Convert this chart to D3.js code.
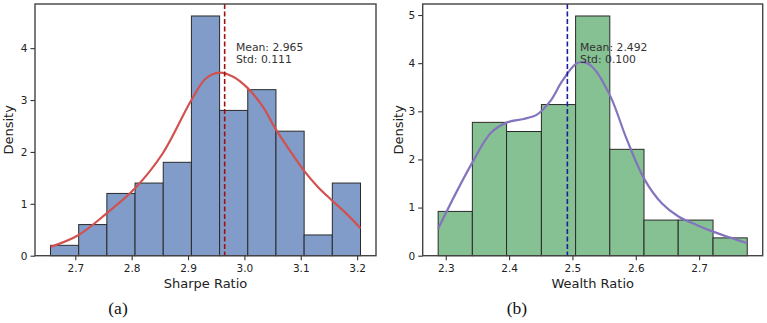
<!DOCTYPE html>
<html>
<head>
<meta charset="utf-8">
<script src="https://cdn.jsdelivr.net/npm/d3@7"></script>
<style>
  body { margin: 0; background: #fff; }
  svg { display: block; font-family: "DejaVu Sans", sans-serif; }
  .tick text { fill: #222; }
</style>
</head>
<body>
<div id="chart"></div>
<script>
// ---- data ----
var sharpeEdges = [2.656, 2.706, 2.756, 2.806, 2.856, 2.906, 2.956, 3.006, 3.056, 3.106, 3.156, 3.206];
var sharpeDensity = [0.2, 0.6, 1.2, 1.4, 1.8, 4.62, 2.8, 3.2, 2.4, 0.4, 1.4];
var sharpeKdeX = [2.656, 2.706, 2.756, 2.806, 2.855, 2.906, 2.932, 2.956, 2.98, 3.005, 3.033, 3.055, 3.08, 3.105, 3.13, 3.155, 3.18, 3.206];
var sharpeKdeY = [0.17, 0.40, 0.82, 1.30, 1.97, 3.0, 3.42, 3.53, 3.45, 3.24, 2.87, 2.45, 2.04, 1.65, 1.33, 1.07, 0.82, 0.53];
var sharpeMean = 2.965, sharpeStd = 0.111;
var sharpeTicksX = [2.7, 2.8, 2.9, 3.0, 3.1, 3.2];
var sharpeTicksY = [0, 1, 2, 3, 4];

var wealthEdges = [2.288, 2.342, 2.396, 2.451, 2.505, 2.559, 2.613, 2.667, 2.722, 2.776];
var wealthDensity = [0.92, 2.77, 2.58, 3.14, 4.98, 2.21, 0.74, 0.74, 0.37];
var wealthKdeX = [2.288, 2.316, 2.343, 2.371, 2.397, 2.423, 2.444, 2.465, 2.484, 2.506, 2.518, 2.533, 2.56, 2.586, 2.614, 2.641, 2.668, 2.696, 2.722, 2.748, 2.776];
var wealthKdeY = [0.56, 1.30, 1.96, 2.55, 2.77, 2.84, 2.93, 3.21, 3.63, 3.99, 4.02, 3.90, 3.31, 2.41, 1.58, 1.09, 0.81, 0.64, 0.50, 0.38, 0.26];
var wealthMean = 2.492, wealthStd = 0.100;
var wealthTicksX = [2.3, 2.4, 2.5, 2.6, 2.7];
var wealthTicksY = [0, 1, 2, 3, 4, 5];

var svg = d3.select("#chart").append("svg")
  .attr("width", 767)
  .attr("height", 323);

svg.append("rect").attr("width", 767).attr("height", 323).attr("fill", "#fff");

// draws one histogram panel
function drawPanel(opt) {
  var width = opt.right - opt.left;
  var height = opt.bottom - opt.top;
  var g = svg.append("g").attr("transform", `translate(${opt.left}, ${opt.top})`);

  var lo = opt.edges[0], hi = opt.edges[opt.edges.length - 1];
  var pad = (hi - lo) * 0.05;
  var x = d3.scaleLinear().domain([lo - pad, hi + pad]).range([0, width]);
  var yMax = d3.max(opt.density) * 1.05;
  var y = d3.scaleLinear().domain([0, yMax]).range([height, 0]);

  var bins = opt.density.map((d, i) => ({ x0: opt.edges[i], x1: opt.edges[i + 1], v: d }));

  g.selectAll("rect.bar")
    .data(bins)
    .enter()
    .append("rect")
    .attr("class", "bar")
    .attr("x", d => x(d.x0))
    .attr("y", d => y(d.v))
    .attr("width", d => x(d.x1) - x(d.x0))
    .attr("height", d => y(0) - y(d.v))
    .attr("fill", opt.barColor)
    .attr("stroke", "#2a2a2a")
    .attr("stroke-width", 1);

  // kde line
  var line = d3.line()
    .x(d => x(d[0]))
    .y(d => y(d[1]))
    .curve(d3.curveCatmullRom);
  g.append("path")
    .datum(opt.kdeX.map((v, i) => [v, opt.kdeY[i]]))
    .attr("d", line)
    .attr("fill", "none")
    .attr("stroke", opt.kdeColor)
    .attr("stroke-width", 2.2);

  // mean line
  g.append("line")
    .attr("x1", x(opt.mean)).attr("x2", x(opt.mean))
    .attr("y1", 0).attr("y2", height)
    .attr("stroke", opt.meanColor)
    .attr("stroke-width", 1.6)
    .attr("stroke-dasharray", "5,2.5");

  // annotation
  var ann = g.append("text")
    .attr("x", x(opt.mean + 0.02))
    .attr("y", 46.5)
    .attr("font-size", "10.8px")
    .attr("fill", "#333");
  ann.append("tspan").attr("x", x(opt.mean + 0.02)).text("Mean: " + opt.mean.toFixed(3));
  ann.append("tspan").attr("x", x(opt.mean + 0.02)).attr("dy", 12.8).text("Std: " + opt.std.toFixed(3));

  // axes
  var xAxis = g.append("g")
    .attr("transform", `translate(0, ${height})`)
    .call(d3.axisBottom(x).tickValues(opt.ticksX).tickFormat(d3.format(".1f")).tickSize(4.5).tickPadding(4.5));
  var yAxis = g.append("g")
    .call(d3.axisLeft(y).tickValues(opt.ticksY).tickFormat(d3.format("d")).tickSize(4.5).tickPadding(3));
  [xAxis, yAxis].forEach(a => {
    a.select(".domain").remove();
    a.selectAll("line").attr("stroke", "#333").attr("stroke-width", 1.1);
    a.selectAll("text").attr("font-size", "10.5px").attr("font-family", "DejaVu Sans, sans-serif");
  });

  // frame
  g.append("rect")
    .attr("width", width).attr("height", height)
    .attr("fill", "none")
    .attr("stroke", "#444")
    .attr("stroke-width", 1.4);

  // labels
  g.append("text")
    .attr("x", width / 2)
    .attr("y", height + 32.6)
    .attr("text-anchor", "middle")
    .attr("font-size", "13px")
    .attr("fill", "#222")
    .text(opt.xLabel);

  g.append("text")
    .attr("transform", "rotate(-90)")
    .attr("x", -height / 2)
    .attr("y", opt.yLabelX)
    .attr("text-anchor", "middle")
    .attr("font-size", "13px")
    .attr("fill", "#222")
    .text("Density");

  svg.append("text")
    .attr("x", opt.capX)
    .attr("y", 314)
    .attr("text-anchor", "middle")
    .attr("font-family", "Liberation Serif, serif")
    .attr("font-size", "17.5px")
    .attr("fill", "#111")
    .text(opt.caption);
}

drawPanel({
  left: 35, right: 376, top: 4, bottom: 255.7,
  edges: sharpeEdges, density: sharpeDensity,
  kdeX: sharpeKdeX, kdeY: sharpeKdeY,
  mean: sharpeMean, std: sharpeStd,
  ticksX: sharpeTicksX, ticksY: sharpeTicksY,
  barColor: "#819cc9", kdeColor: "#d2514f", meanColor: "#a01010",
  xLabel: "Sharpe Ratio", yLabelX: -22.5, caption: "(a)", capX: 118
});

drawPanel({
  left: 422.7, right: 762.7, top: 4, bottom: 255.7,
  edges: wealthEdges, density: wealthDensity,
  kdeX: wealthKdeX, kdeY: wealthKdeY,
  mean: wealthMean, std: wealthStd,
  ticksX: wealthTicksX, ticksY: wealthTicksY,
  barColor: "#86c193", kdeColor: "#8474be", meanColor: "#1c1ca0",
  xLabel: "Wealth Ratio", yLabelX: -20, caption: "(b)", capX: 517
});
</script>
</body>
</html>
